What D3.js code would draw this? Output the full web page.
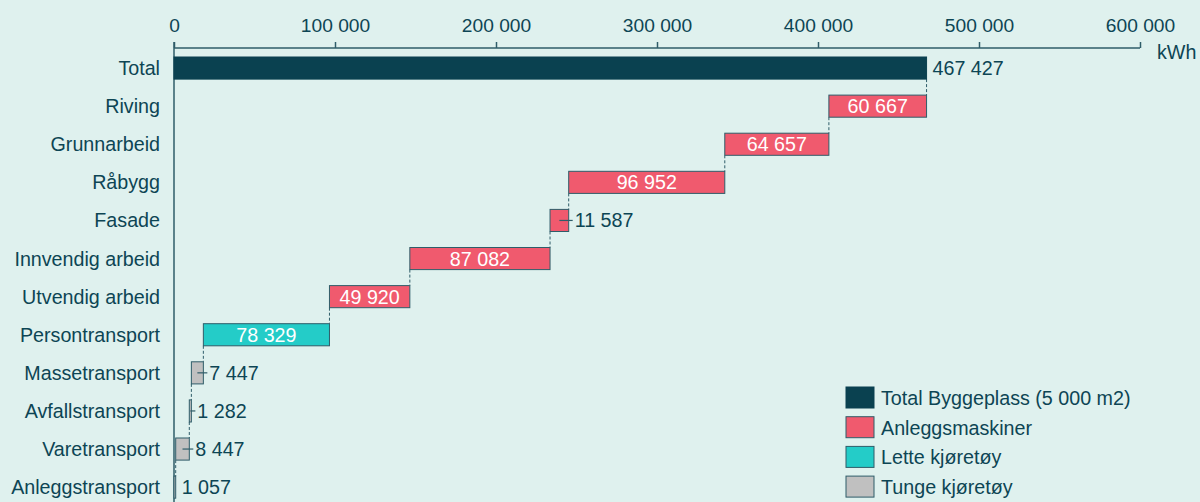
<!DOCTYPE html>
<html><head><meta charset="utf-8">
<script src="https://cdn.jsdelivr.net/npm/d3@7"></script>
<style>
html,body{margin:0;padding:0;background:#dff1ee;}
svg{display:block;font-family:"Liberation Sans",Arial,sans-serif;}
</style></head>
<body><svg id="c" width="1200" height="502"></svg>
<script>
const categories = ["Total","Riving","Grunnarbeid","Råbygg","Fasade","Innvendig arbeid","Utvendig arbeid","Persontransport","Massetransport","Avfallstransport","Varetransport","Anleggstransport"];
const values = [467427,60667,64657,96952,11587,87082,49920,78329,7447,1282,8447,1057];
const groups = ["total","anlegg","anlegg","anlegg","anlegg","anlegg","anlegg","lette","tunge","tunge","tunge","tunge"];
const xTicks = [0,100000,200000,300000,400000,500000,600000];
const legendLabels = ["Total Byggeplass (5 000 m2)","Anleggsmaskiner","Lette kjøretøy","Tunge kjøretøy"];
const legendKeys = ["total","anlegg","lette","tunge"];
const colors = {total:"#0a4150",anlegg:"#f05a6e",lette:"#24ccc8",tunge:"#c0c0c0"};

const textColor = "#0d4554";
const strokeColor = "#2f5d69";
const FS = 19.7;
const svg = d3.select("#c");
const x = d3.scaleLinear().domain([0,600000]).range([174,1140]);
const y = d3.scaleBand().domain(categories).range([41,514.2]).padding(0.42);
const fmt = v => d3.format(",")(v).replace(/,/g," ");

// compute waterfall
let data = [];
let level = values[0];
data.push({cat:categories[0],v:values[0],x0:0,x1:values[0],g:groups[0]});
for(let i=1;i<categories.length;i++){
  const x1 = level, x0 = level - values[i];
  data.push({cat:categories[i],v:values[i],x0,x1,g:groups[i]});
  level = x0;
}

// top axis
const axis = d3.axisTop(x).tickValues(xTicks).tickSize(6).tickSizeOuter(0).tickFormat(fmt).tickPadding(10);
const ag = svg.append("g").attr("transform","translate(0,48)").call(axis);
ag.select(".domain").attr("stroke",strokeColor).attr("stroke-width",1.5).attr("d","M174,0H1140");
ag.selectAll(".tick line").attr("stroke",strokeColor).attr("stroke-width",1.5);
ag.selectAll(".tick text").attr("fill",textColor).attr("font-size",19.2).attr("font-family","Liberation Sans, Arial, sans-serif");
svg.append("text").attr("x",1157).attr("y",54).attr("fill",textColor).attr("font-size",FS).attr("dominant-baseline","middle").text("kWh");

// left vertical axis line
svg.append("line").attr("x1",x(0)).attr("x2",x(0)).attr("y1",42).attr("y2",502).attr("stroke",strokeColor).attr("stroke-width",1.5);

// category labels
svg.append("g").selectAll("text").data(categories).join("text")
  .attr("x",160).attr("y",d=>y(d)+y.bandwidth()/2).attr("text-anchor","end")
  .attr("dominant-baseline","central").attr("fill",textColor).attr("font-size",FS).text(d=>d);

// connectors
const conn = svg.append("g");
for(let i=0;i<data.length-1;i++){
  const xx = x(i===0 ? data[0].x1 : data[i].x0);
  conn.append("line").attr("x1",xx).attr("x2",xx)
    .attr("y1",y(data[i].cat)+y.bandwidth()).attr("y2",y(data[i+1].cat))
    .attr("stroke",strokeColor).attr("stroke-width",1).attr("stroke-dasharray","3,2");
}

// bars
svg.append("g").selectAll("rect").data(data).join("rect")
  .attr("x",d=>x(d.x0)).attr("y",d=>y(d.cat))
  .attr("width",d=>Math.max(1,x(d.x1)-x(d.x0))).attr("height",y.bandwidth())
  .attr("fill",d=>colors[d.g]).attr("stroke",d=>d.g==="total"?colors.total:strokeColor).attr("stroke-width",1);

// labels
const lg = svg.append("g");
data.forEach((d,i)=>{
  const w = x(d.x1)-x(d.x0);
  const cy = y(d.cat)+y.bandwidth()/2;
  if(d.g!=="total" && w>80){
    lg.append("text").attr("x",(x(d.x0)+x(d.x1))/2).attr("y",cy).attr("text-anchor","middle")
      .attr("dominant-baseline","central").attr("fill","#ffffff").attr("font-size",FS).text(fmt(d.v));
  } else {
    const xe = x(d.x1);
    if(d.g!=="total" && i!==data.length-1){
      lg.append("line").attr("x1",(x(d.x0)+xe)/2).attr("x2",xe+4).attr("y1",cy).attr("y2",cy)
        .attr("stroke",strokeColor).attr("stroke-width",1.2);
    }
    lg.append("text").attr("x",xe+6).attr("y",cy).attr("text-anchor","start")
      .attr("dominant-baseline","central").attr("fill",textColor).attr("font-size",FS).text(fmt(d.v));
  }
});

// legend
const leg = svg.append("g").attr("transform","translate(846,387)");
legendKeys.forEach((k,i)=>{
  const g = leg.append("g").attr("transform",`translate(0,${i*29.7})`);
  g.append("rect").attr("x",0).attr("y",0).attr("width",28).attr("height",21)
    .attr("fill",colors[k]).attr("stroke",k==="total"?colors.total:strokeColor).attr("stroke-width",1);
  g.append("text").attr("x",35).attr("y",11).attr("dominant-baseline","central")
    .attr("fill",textColor).attr("font-size",FS).text(legendLabels[i]);
});
</script></body></html>
